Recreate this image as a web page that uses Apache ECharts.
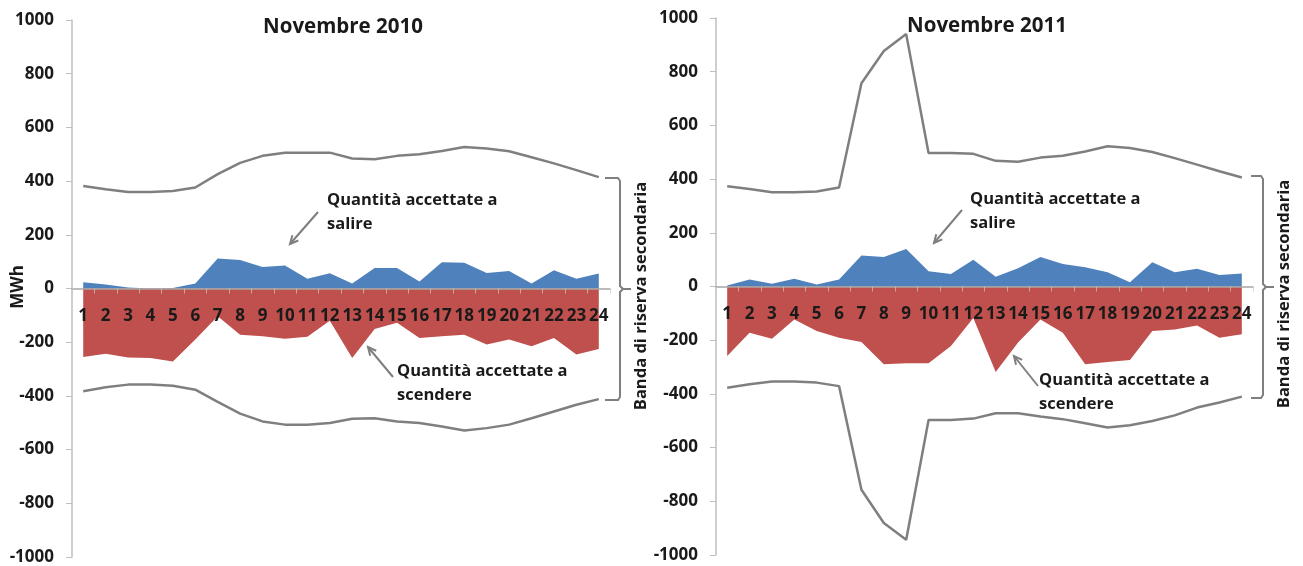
<!DOCTYPE html>
<html><head><meta charset="utf-8">
<script src="https://cdn.jsdelivr.net/npm/echarts@6/dist/echarts.min.js"></script>
<style>html,body{margin:0;padding:0;background:#fff}#c{width:1303px;height:566px}</style>
</head><body><div id="c"></div>
<script>
const hours = ['1','2','3','4','5','6','7','8','9','10','11','12','13','14','15','16','17','18','19','20','21','22','23','24'];
const yTicks = {min:-1000, max:1000, step:200};

const up2010 = [23,15,4,0,2,19,112,106,80,86,36,57,19,76,76,26,98,96,58,65,19,68,36,56];
const down2010 = [-255,-243,-257,-259,-272,-190,-103,-172,-178,-187,-180,-120,-259,-151,-128,-184,-178,-172,-209,-190,-215,-184,-246,-225];
const bandUp2010 = [382,370,359,359,363,376,426,468,494,506,506,506,484,481,494,500,512,527,521,511,489,466,441,415];
const bandDown2010 = [-383,-368,-358,-358,-362,-377,-422,-466,-495,-507,-507,-501,-485,-483,-495,-501,-514,-529,-520,-507,-483,-458,-433,-412];

const up2011 = [4,26,10,29,7,26,115,110,140,57,47,100,36,68,110,84,72,53,16,90,53,66,43,48];
const down2011 = [-259,-172,-195,-123,-166,-191,-207,-290,-286,-286,-222,-117,-318,-209,-123,-172,-290,-281,-274,-166,-160,-145,-191,-178];
const bandUp2011 = [373,363,351,351,354,369,757,877,940,497,497,494,468,465,480,487,503,522,516,501,478,454,429,406];
const bandDown2011 = [-377,-364,-354,-354,-358,-371,-757,-881,-943,-497,-497,-492,-472,-472,-484,-494,-509,-525,-517,-501,-480,-451,-432,-410];

const titles = ['Novembre 2010','Novembre 2011'];
const annUp = ['Quantità accettate a','salire'];
const annDown = ['Quantità accettate a','scendere'];
const bandLabel = 'Banda di riserva secondaria';
const yName = 'MWh';

const FONT = '"Open Sans", Lato, sans-serif';
const TXT = '#1a1a1a';
const BLUE = '#4f81bd', RED = '#c0504d', GREY = '#7f7f7f';

const grids = [
  {left:72, top:20, width:538, height:537, containLabel:false, outerBoundsMode:'none'},
  {left:716, top:18, width:537, height:537, containLabel:false, outerBoundsMode:'none'}
];

function xAx(i){
  return {gridIndex:i, type:'category', data:hours, boundaryGap:true, z:5,
    position:'bottom', offset:-grids[i].height/2,
    axisLine:{onZero:false, lineStyle:{color:'#a6a6a6', width:1.5}},
    axisTick:{show:true, length:5, lineStyle:{color:'rgba(200,200,200,0.7)'}},
    axisLabel:{fontFamily:FONT, fontWeight:'bold', fontSize:17, color:TXT, margin:19, interval:0}};
}
function yAx(i){
  return {gridIndex:i, type:'value', min:yTicks.min, max:yTicks.max, interval:yTicks.step,
    splitLine:{show:false},
    axisLine:{show:true, onZero:false, lineStyle:{color:'#bfbfbf', width:1.5}},
    axisTick:{show:true, length:6, lineStyle:{color:'#bfbfbf'}},
    axisLabel:{fontFamily:FONT, fontWeight:'bold', fontSize:17, color:TXT, margin:18,
      formatter:function(v){return String(v);}}};
}
function areaS(i, data, color){
  return {type:'line', xAxisIndex:i, yAxisIndex:i, data:data, symbol:'none', silent:true,
    lineStyle:{width:0, color:color}, itemStyle:{color:color},
    areaStyle:{color:color, opacity:1, origin:'auto'}, z:2};
}
function lineS(i, data){
  return {type:'line', xAxisIndex:i, yAxisIndex:i, data:data, symbol:'none', silent:true,
    lineStyle:{width:2.5, color:GREY}, z:3};
}

function text(x, y, t, size, align, rot){
  const e = {type:'text', x:x, y:y, z:10,
    style:{text:t, fontFamily:FONT, fontWeight:'bold', fontSize:size, fill:TXT,
      textAlign:align||'left', textVerticalAlign:'middle'}};
  if (rot) e.rotation = rot;
  return e;
}
function arrow(x1,y1,x2,y2){
  const a = Math.atan2(y2-y1, x2-x1), L = 9, w = 0.45;
  return [
    {type:'line', z:10, shape:{x1:x1,y1:y1,x2:x2,y2:y2}, style:{stroke:GREY, lineWidth:2}},
    {type:'polyline', z:10, shape:{points:[[x2-L*Math.cos(a-w), y2-L*Math.sin(a-w)],[x2,y2],[x2-L*Math.cos(a+w), y2-L*Math.sin(a+w)]]},
      style:{stroke:GREY, lineWidth:2, fill:null}}
  ];
}
function bracket(x0, xv, top, mid, bot){
  return [
    {type:'polyline', z:10, shape:{points:[[x0,top],[xv-2,top],[xv,top+3],[xv,mid-3],[xv+3,mid],[xv+11,mid]]}, style:{stroke:GREY, lineWidth:2, fill:null}},
    {type:'polyline', z:10, shape:{points:[[xv+3,mid],[xv,mid+3],[xv,bot-3],[xv-2,bot],[x0,bot]]}, style:{stroke:GREY, lineWidth:2, fill:null}}
  ];
}

const graphic = [
  text(343, 27, titles[0], 20.5, 'center'),
  text(987, 26, titles[1], 20.5, 'center'),
  text(18, 287, yName, 17, 'center', Math.PI/2),
  text(327, 200, annUp[0], 16.5), text(327, 224, annUp[1], 16.5),
  text(970, 199, annUp[0], 16.5), text(970, 223, annUp[1], 16.5),
  text(397, 371, annDown[0], 16.5), text(397, 395, annDown[1], 16.5),
  text(1039, 380, annDown[0], 16.5), text(1039, 404, annDown[1], 16.5),
  text(641, 296, bandLabel, 16.5, 'center', Math.PI/2),
  text(1284, 294, bandLabel, 16.5, 'center', Math.PI/2),
  ...arrow(318,212,290,244), ...arrow(962,210,934,243),
  ...arrow(393,377,368,347), ...arrow(1038,386,1014,356),
  ...bracket(605, 620, 178, 289, 400),
  ...bracket(1251, 1263, 176, 287, 398)
];

const chart = echarts.init(document.getElementById('c'));
chart.setOption({
  animation:false,
  grid:grids,
  xAxis:[xAx(0), xAx(1)],
  yAxis:[yAx(0), yAx(1)],
  series:[
    areaS(0, up2010, BLUE), areaS(0, down2010, RED), lineS(0, bandUp2010), lineS(0, bandDown2010),
    areaS(1, up2011, BLUE), areaS(1, down2011, RED), lineS(1, bandUp2011), lineS(1, bandDown2011)
  ],
  graphic:graphic
});
</script></body></html>
